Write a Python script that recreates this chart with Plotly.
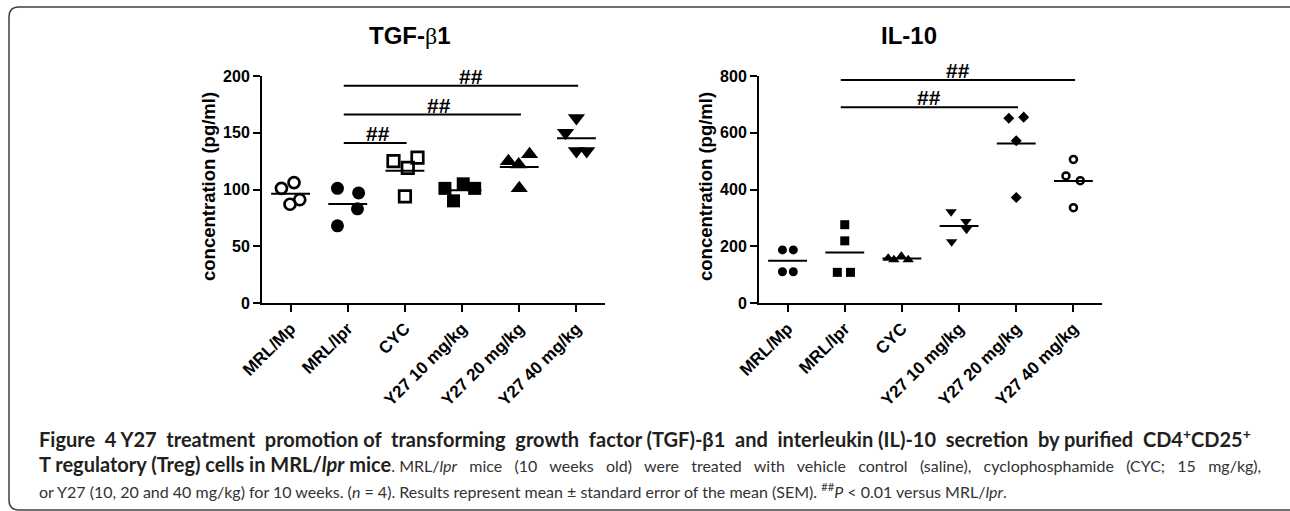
import plotly.graph_objects as go

# ---------------- data ----------------
groups = ["MRL/Mp", "MRL/lpr", "CYC", "Y27 10 mg/kg", "Y27 20 mg/kg", "Y27 40 mg/kg"]

tgf_mrl_mp = [101, 106, 91, 87]
tgf_mrl_lpr = [101, 97, 83, 68]
tgf_cyc = [125, 128, 119, 94]
tgf_y27_10 = [101, 105, 101, 90]
tgf_y27_20 = [125, 131, 122, 101]
tgf_y27_40 = [163, 150, 134, 134]

il10_mrl_mp = [187, 187, 110, 110]
il10_mrl_lpr = [276, 219, 108, 108]
il10_cyc = [158, 165, 152, 152]
il10_y27_10 = [322, 287, 260, 216]
il10_y27_20 = [651, 655, 572, 372]
il10_y27_40 = [506, 448, 431, 336]

tgf_ticks = [0, 50, 100, 150, 200]
il10_ticks = [0, 200, 400, 600, 800]

# significance comparisons: (from group, to group, bar level value)
tgf_sig = [(1, 2, 141), (1, 4, 166), (1, 5, 191.5)]
il10_sig = [(1, 4, 690), (1, 5, 786)]

# ---------------- styling / jitter ----------------
tgf_jitter = [
    [-0.16, 0.06, 0.16, -0.01],
    [-0.18, 0.19, 0.17, -0.18],
    [-0.20, 0.22, 0.05, 0.0],
    [-0.30, 0.02, 0.22, -0.15],
    [-0.19, 0.18, -0.01, 0.0],
    [0.0, -0.19, 0.0, 0.18],
]
il10_jitter = [
    [-0.09, 0.10, -0.09, 0.10],
    [0.0, 0.0, -0.13, 0.10],
    [-0.24, -0.01, -0.14, 0.11],
    [-0.14, 0.12, 0.13, -0.13],
    [-0.13, 0.13, 0.0, 0.0],
    [0.0, -0.13, 0.12, 0.0],
]
tgf_sym = [("circle-open", 11, 2.7), ("circle", 13, 0), ("square-open", 11.5, 2.7),
           ("square", 13, 0), ("triangle-up", 15, 0), ("triangle-down", 15, 0)]
il10_sym = [("circle", 9, 0), ("square", 9, 0), ("triangle-up", 10, 0),
            ("triangle-down", 10, 0), ("diamond", 8.5, 0), ("circle-open", 7, 2.5)]

tgf_data = [tgf_mrl_mp, tgf_mrl_lpr, tgf_cyc, tgf_y27_10, tgf_y27_20, tgf_y27_40]
il10_data = [il10_mrl_mp, il10_mrl_lpr, il10_cyc, il10_y27_10, il10_y27_20, il10_y27_40]

W, H = 1290, 511
fig = go.Figure()

def add_panel(data, jit, syms, xa, ya):
    for i, vals in enumerate(data):
        sym, size, lw = syms[i]
        xs = [i + j for j in jit[i]]
        fig.add_trace(go.Scatter(
            x=xs, y=vals, mode="markers", xaxis=xa, yaxis=ya, showlegend=False,
            cliponaxis=False, hoverinfo="skip",
            marker=dict(symbol=sym, size=size, color="black",
                        line=dict(width=lw, color="black")),
        ))
        m = sum(vals) / len(vals)
        fig.add_trace(go.Scatter(
            x=[i - 0.34, i + 0.34], y=[m, m], mode="lines", xaxis=xa, yaxis=ya,
            showlegend=False, cliponaxis=False, hoverinfo="skip",
            line=dict(color="black", width=2),
        ))

add_panel(tgf_data, tgf_jitter, tgf_sym, "x", "y")
add_panel(il10_data, il10_jitter, il10_sym, "x2", "y2")

shapes = []
annotations = []

def add_sig(sig, xref, yref, text_dx):
    for k, (a, b, lvl) in enumerate(sig):
        x0, x1 = a - 0.07, b + 0.03
        shapes.append(dict(type="line", xref=xref, yref=yref, x0=x0, x1=x1,
                           y0=lvl, y1=lvl, line=dict(color="black", width=2)))
        annotations.append(dict(xref=xref, yref=yref, x=(x0 + x1) / 2 + text_dx[k], y=lvl,
                                xanchor="center", text="##", showarrow=False,
                                yanchor="bottom", yshift=-4,
                                font=dict(family="Arial", size=21, color="black", weight="bold")))

add_sig(tgf_sig, "x", "y", [0.05, 0.12, 0.17])
add_sig(il10_sig, "x2", "y2", [0.0, 0.0])

xfont = dict(family="Arial", size=17, color="black", weight="bold")
yfont = dict(family="Arial", size=16, color="black", weight="bold")
xcommon = dict(range=[-0.5, 5.5], tickvals=list(range(6)), ticktext=groups, tickangle=-45,
               showline=True, linewidth=2, linecolor="black", ticks="outside", ticklen=7,
               tickwidth=2, tickcolor="black", showgrid=False, zeroline=False,
               tickfont=xfont, automargin=False)
ycommon = dict(showline=True, linewidth=2, linecolor="black", ticks="outside",
               ticklen=7, tickwidth=2, tickcolor="black", showgrid=False,
               zeroline=False, tickfont=yfont, automargin=False)
ydom = [1 - 303 / H, 1 - 76 / H]

fig.update_layout(
    template="none",
    width=W, height=H, autosize=False,
    margin=dict(l=0, r=0, t=0, b=0, pad=0, autoexpand=False),
    paper_bgcolor="white", plot_bgcolor="white",
    xaxis=dict(domain=[262 / W, 605 / W], anchor="y", **xcommon),
    xaxis2=dict(domain=[759 / W, 1102 / W], anchor="y2", **xcommon),
    yaxis=dict(domain=ydom, anchor="x", range=[0, 200], tickvals=tgf_ticks, **ycommon),
    yaxis2=dict(domain=ydom, anchor="x2", range=[0, 800], tickvals=il10_ticks, **ycommon),
)

# panel titles
title_font = dict(family="Arial", size=24, color="black", weight="bold")
annotations.append(dict(xref="paper", yref="paper", x=410 / W, y=1 - 35 / H,
                        xanchor="center", yanchor="middle",
                        text="TGF-<span style=\"font-family:'Liberation Serif';font-weight:normal\">β</span>1",
                        showarrow=False, font=title_font))
annotations.append(dict(xref="paper", yref="paper", x=909 / W, y=1 - 35 / H, text="IL-10",
                        xanchor="center", yanchor="middle",
                        showarrow=False, font=title_font))
# y-axis titles
for xp in (208, 705):
    annotations.append(dict(xref="paper", yref="paper", x=xp / W, y=1 - 187 / H,
                            xanchor="center", yanchor="middle",
                            text="concentration (pg/ml)", textangle=-90, showarrow=False,
                            font=dict(family="Arial", size=18.5, color="black", weight="bold")))

# caption (justified lines emulated with extra spaces)
def justify(words, extra):
    gaps = len(words) - 1
    out = words[0]
    acc = 0
    for i, w in enumerate(words[1:]):
        target = round((i + 1) * extra / gaps)
        n = target - acc
        acc = target
        out += " " + "&nbsp;" * n + w
    return out

reg_open = "<span style=\"color:#333333;font-weight:normal;font-size:16px\">"
l1_words = ("Figure 4 Y27 treatment promotion of transforming growth factor (TGF)-β1 and "
            "interleukin (IL)-10 secretion by purified").split(" ") + \
           ["CD4<sup>+</sup>CD25<sup>+</sup>"]
line1 = "<b>" + justify(l1_words, 11) + "</b>"
l2_reg_words = ("MRL/<i>lpr</i> mice (10 weeks old) were treated with vehicle control (saline), "
                "cyclophosphamide (CYC; 15 mg/kg),").split(" ")
line2 = ("<b>T regulatory (Treg) cells in MRL/<i>lpr</i> mice</b>"
         + reg_open + ". " + justify(l2_reg_words, 28) + "</span>")
line3 = (reg_open + "or Y27 (10, 20 and 40 mg/kg) for 10 weeks. (<i>n</i> = 4). Results represent "
         "mean ± standard error of the mean (SEM). <sup>##</sup><i>P</i> &lt; 0.01 versus "
         "MRL/<i>lpr</i>.</span>")
cap_font = dict(family="Lato", size=20, color="#231f20")
for txt, yp in ((line1, 438), (line2, 464), (line3, 490)):
    annotations.append(dict(xref="paper", yref="paper", x=37 / W, y=1 - yp / H,
                            xanchor="left", yanchor="middle", text=txt, showarrow=False,
                            font=cap_font))

# rounded frame
def px(x):
    return x / W
def py(y):
    return 1 - y / H
x0, x1, y0, y1, r = 9, 1298, 7, 510, 10
path = (f"M {px(x0 + r)},{py(y0)} L {px(x1 - r)},{py(y0)} Q {px(x1)},{py(y0)} {px(x1)},{py(y0 + r)} "
        f"L {px(x1)},{py(y1 - r)} Q {px(x1)},{py(y1)} {px(x1 - r)},{py(y1)} "
        f"L {px(x0 + r)},{py(y1)} Q {px(x0)},{py(y1)} {px(x0)},{py(y1 - r)} "
        f"L {px(x0)},{py(y0 + r)} Q {px(x0)},{py(y0)} {px(x0 + r)},{py(y0)} Z")
shapes.append(dict(type="path", xref="paper", yref="paper", path=path,
                   line=dict(color="#404040", width=1.5)))

fig.update_layout(shapes=shapes, annotations=annotations)
fig.write_html("out.html", config={"displayModeBar": False, "staticPlot": True},
               post_script="document.body.style.margin='0px';")
